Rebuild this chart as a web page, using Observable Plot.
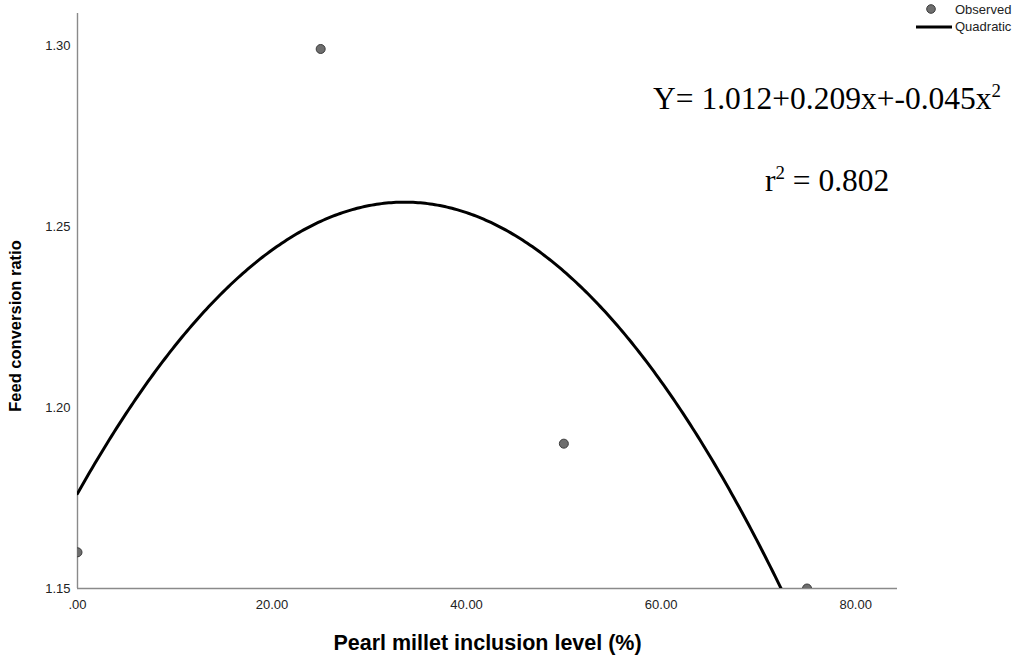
<!DOCTYPE html>
<html>
<head>
<meta charset="utf-8">
<script src="https://cdn.jsdelivr.net/npm/d3@7"></script>
<script src="https://cdn.jsdelivr.net/npm/@observablehq/plot@0.6"></script>
<style>
  body { margin: 0; background: #fff; }
  #wrap { position: relative; width: 1036px; height: 656px; overflow: hidden; }
  #wrap > svg { position: absolute; left: 0; top: 0; }
  .lg { position: absolute; font-family: "Liberation Sans", Arial, sans-serif; font-size: 13px; color: #222; line-height: 14px; white-space: nowrap; }
  .lgsym { position: absolute; }
  .eq { position: absolute; font-family: "Liberation Serif", "Times New Roman", serif; font-size: 31.5px; color: #000; white-space: nowrap; line-height: 1; }
  .eq sup { font-size: 0.6em; vertical-align: 0.62em; line-height: 0; }
</style>
</head>
<body>
<div id="wrap"></div>
<script>
// Observed data
const inclusion = [0, 25, 50, 75];
const fcr = [1.16, 1.299, 1.19, 1.15];
// Quadratic fit coefficients (level units: level = inclusion/25 + 1)
const quadCoef = [1.012, 0.2087, -0.0445];
const equationText = ["Y= 1.012+0.209x+-0.045x", "2"];
const r2Text = "0.802";
const xTicks = [0, 20, 40, 60, 80];
const yTicks = [1.15, 1.20, 1.25, 1.30];
const xTitle = "Pearl millet inclusion level (%)";
const yTitle = "Feed conversion ratio";
const legendItems = ["Observed", "Quadratic"];

const observed = inclusion.map((x, i) => ({x, y: fcr[i]}));
const quad = x => { const s = x / 25 + 1; return quadCoef[0] + quadCoef[1] * s + quadCoef[2] * s * s; };
const curve = d3.range(0, 84.31, 0.25).map(x => ({x, y: quad(x)}));

const fmtX = d => d === 0 ? ".00" : d.toFixed(2);

const chart = Plot.plot({
  width: 1036,
  height: 656,
  marginLeft: 77,
  marginRight: 139,
  marginTop: 13,
  marginBottom: 68,
  style: { fontFamily: "'Liberation Sans', Arial, sans-serif", fontSize: "13px", color: "#222", background: "#fff" },
  x: { domain: [0, 84.3], ticks: xTicks, tickSize: 0, tickPadding: 11, tickFormat: fmtX, label: null },
  y: { domain: [1.15, 1.3088], ticks: yTicks, tickSize: 0, tickPadding: 7, tickFormat: d => d.toFixed(2), label: null },
  marks: [
    Plot.ruleY([1.15], { stroke: "#8a8a8a", strokeWidth: 1.4 }),
    Plot.ruleX([0], { stroke: "#8a8a8a", strokeWidth: 1.4 }),
    Plot.line(curve, { x: "x", y: "y", stroke: "#000", strokeWidth: 3, clip: true }),
    Plot.dot(observed, { x: "x", y: "y", r: 4.5, fill: "#6e6e6e", stroke: "#3c3c3c", strokeWidth: 1, clip: true }),
    Plot.text([xTitle], { frameAnchor: "bottom", lineAnchor: "middle", textAnchor: "middle", dy: 55, text: d => d, fontWeight: "bold", fontSize: 21.5, fill: "#000" }),
    Plot.text([yTitle], { frameAnchor: "left", textAnchor: "middle", lineAnchor: "middle", dx: -62, dy: 25, rotate: -90, text: d => d, fontWeight: "bold", fontSize: 16.5, fill: "#000" })
  ]
});
const wrap = document.getElementById("wrap");
wrap.appendChild(chart);

// Legend
const legend = document.createElement("div");
legend.innerHTML = `
  <svg class="lgsym" style="left:920px; top:2px;" width="22" height="14"><circle cx="11" cy="7" r="4.3" fill="#6e6e6e" stroke="#3c3c3c" stroke-width="1"/></svg>
  <div class="lg" style="left:955px; top:3px;">${legendItems[0]}</div>
  <svg class="lgsym" style="left:916px; top:20px;" width="36" height="14"><line x1="0" y1="7" x2="36" y2="7" stroke="#000" stroke-width="3"/></svg>
  <div class="lg" style="left:955px; top:20px;">${legendItems[1]}</div>`;
wrap.appendChild(legend);

// Equation annotations
const eq = document.createElement("div");
eq.className = "eq";
eq.style.left = "653px";
eq.style.top = "83px";
eq.innerHTML = `${equationText[0]}<sup>${equationText[1]}</sup>`;
wrap.appendChild(eq);

const r2 = document.createElement("div");
r2.className = "eq";
r2.style.left = "765px";
r2.style.top = "165px";
r2.innerHTML = `r<sup>2</sup> = ${r2Text}`;
wrap.appendChild(r2);
</script>
</body>
</html>
